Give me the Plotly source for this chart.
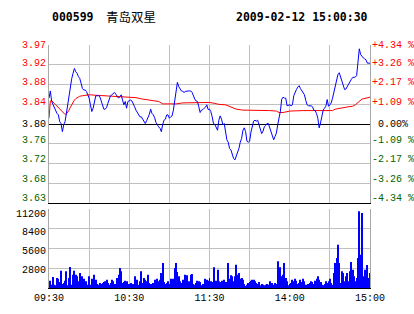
import plotly.graph_objects as go

stock_code = "000599"
stock_name = "青岛双星"
stamp = "2009-02-12 15:00:30"
prev_close = 3.80

# minute-by-minute price, 09:30 .. 11:30, 13:00 .. 15:00 (241 points)
price = [
    3.854, 3.869, 3.847, 3.840, 3.833, 3.826, 3.822, 3.819, 3.805, 3.801,
    3.784, 3.798, 3.805, 3.822, 3.843, 3.854, 3.874, 3.895, 3.906, 3.916,
    3.909, 3.906, 3.899, 3.895, 3.885, 3.874, 3.871, 3.871, 3.868, 3.861,
    3.854, 3.840, 3.826, 3.833, 3.847, 3.859, 3.859, 3.859, 3.857, 3.847,
    3.836, 3.831, 3.831, 3.834, 3.843, 3.854, 3.859, 3.861, 3.864, 3.866,
    3.862, 3.857, 3.854, 3.857, 3.861, 3.850, 3.840, 3.847, 3.833, 3.847,
    3.848,
    3.850, 3.848, 3.840, 3.836, 3.829, 3.824, 3.820, 3.815, 3.815, 3.810,
    3.805, 3.801, 3.807, 3.812, 3.820, 3.831, 3.822, 3.819, 3.813, 3.803,
    3.797, 3.794, 3.791, 3.784, 3.799, 3.808, 3.810, 3.819, 3.819, 3.812,
    3.815, 3.817, 3.829, 3.850, 3.874, 3.887, 3.878, 3.872, 3.869, 3.868,
    3.866, 3.868, 3.869, 3.869, 3.869, 3.869, 3.866, 3.857, 3.852, 3.848,
    3.847, 3.836, 3.824, 3.829, 3.830, 3.833, 3.835, 3.840, 3.830, 3.831,
    3.826, 3.815, 3.801, 3.799, 3.791, 3.787, 3.808, 3.817, 3.810, 3.798,
    3.801, 3.784, 3.767, 3.762, 3.749, 3.746, 3.735, 3.728, 3.725, 3.732,
    3.739, 3.749, 3.762, 3.770, 3.787, 3.792, 3.784, 3.764, 3.762, 3.764,
    3.783, 3.799, 3.806, 3.808, 3.806, 3.808, 3.799, 3.791, 3.780, 3.785,
    3.794, 3.797, 3.801, 3.801, 3.792, 3.785, 3.778, 3.767, 3.774, 3.781,
    3.798, 3.812, 3.827, 3.852, 3.856, 3.854, 3.854, 3.838, 3.839, 3.840,
    3.838, 3.840, 3.859, 3.868, 3.872, 3.877, 3.880, 3.874, 3.870, 3.866,
    3.861, 3.849, 3.840, 3.838, 3.838, 3.838, 3.836, 3.829, 3.828, 3.822,
    3.812, 3.792, 3.802, 3.813, 3.829, 3.833, 3.837, 3.851, 3.837, 3.840,
    3.844, 3.854, 3.868, 3.879, 3.896, 3.903, 3.907, 3.897, 3.887, 3.882,
    3.872, 3.873, 3.878, 3.886, 3.889, 3.893, 3.897, 3.898, 3.898, 3.901,
    3.924, 3.957, 3.945, 3.941, 3.938, 3.936, 3.934, 3.927, 3.927, 3.927,
]

# average price line
avg_minutes = [0, 1, 2, 3, 4, 5, 6, 7, 8, 9, 10, 11, 12, 13, 14, 15, 16, 17, 18, 19,
               20, 21, 22, 23, 25, 28, 30, 35, 40, 45, 50, 55, 60, 65, 70, 75, 80, 82,
               85, 90, 95, 100, 110, 120, 124, 127, 132, 135, 137, 140, 145, 150, 157,
               165, 170, 172, 175, 180, 190, 200, 212, 214, 217, 219, 222, 224, 227,
               229, 232, 234, 237, 240]
avg_price = [3.812, 3.848, 3.849, 3.845, 3.843, 3.840, 3.837, 3.834, 3.831, 3.828,
             3.826, 3.822, 3.820, 3.821, 3.824, 3.829, 3.835, 3.840, 3.847, 3.850,
             3.853, 3.855, 3.857, 3.858, 3.859, 3.860, 3.861, 3.860, 3.859, 3.858,
             3.858, 3.857, 3.856, 3.855, 3.852, 3.850, 3.849, 3.847, 3.842, 3.842,
             3.842, 3.844, 3.844, 3.845, 3.843, 3.841, 3.840, 3.836, 3.834, 3.831,
             3.829, 3.829, 3.829, 3.828, 3.827, 3.824, 3.824, 3.827, 3.828, 3.828,
             3.828, 3.831, 3.833, 3.833, 3.835, 3.836, 3.837, 3.840, 3.847, 3.852,
             3.854, 3.856]

# per-minute volume (240 bars)
volume = [
    1040, 470, 1560, 470, 380, 1420, 1320, 850, 2460, 570,
    710, 1040, 2360, 380, 1420, 2980, 470, 1890, 2460, 1890,
    1650, 950, 2130, 1420, 1650, 1320, 710, 950, 470, 1650,
    470, 1320, 950, 1890, 1180, 570, 470, 710, 570, 710,
    850, 950, 1180, 710, 470, 710, 1180, 950, 570, 470,
    1420, 1890, 2840, 2360, 710, 850, 1040, 950, 380, 570,
    710, 380, 570, 1650, 710, 1180, 470, 950, 2360, 710,
    1420, 1180, 950, 1890, 710, 570, 380, 710, 1180, 710,
    1320, 950, 1180, 2130, 3540, 850, 570, 710, 950, 570,
    1320, 380, 1320, 2840, 3540, 2270, 1650, 950, 710, 1180,
    1040, 1890, 1800, 470, 950, 1890, 1990, 570, 470, 710,
    1040, 950, 850, 380, 570, 470, 1320, 1180, 1040, 1420,
    950, 850, 2930, 950, 1040, 2600, 950, 850, 1040, 570,
    1180, 850, 710, 3540, 1320, 1800, 1650, 950, 1650, 3310,
    1890, 2130, 1320, 1420, 1180, 570, 240, 470, 710, 850,
    1040, 1180, 1180, 950, 710, 570, 850, 380, 570, 470,
    380, 470, 570, 470, 950, 570, 710, 470, 710, 570,
    3780, 1420, 2930, 1650, 1890, 3540, 1420, 950, 380, 570,
    710, 1180, 950, 1320, 1040, 570, 710, 1180, 850, 1320,
    950, 470, 380, 570, 710, 950, 850, 570, 1040, 1320,
    1650, 1180, 850, 470, 380, 570, 950, 710, 950, 1320,
    710, 470, 2130, 3540, 4250, 6140, 3540, 710, 2360, 2130,
    950, 1650, 2130, 950, 2360, 3690, 2600, 1650, 950, 1420,
    4250, 10870, 4730, 10630, 1650, 2600, 1890, 3260, 1420, 2130,
]

pct_levels = [4.34, 3.26, 2.17, 1.09, 0.0, -1.09, -2.17, -3.26, -4.34]
price_labels = ["3.97", "3.92", "3.88", "3.84", "3.80", "3.76", "3.72", "3.68", "3.63"]
pct_labels = ["+4.34 %", "+3.26 %", "+2.17 %", "+1.09 %", "\u00a00.00%",
              "-1.09 %", "-2.17 %", "-3.26 %", "-4.34 %"]
vol_ticks = [2800, 5600, 8400, 11200]
vol_labels = ["2800", "5600", "8400", "11200"]
time_ticks = [0, 30, 60, 90, 120, 150, 180, 210, 240]
time_labels = ["09:30", "", "10:30", "", "11:30", "", "14:00", "", "15:00"]

UP, DOWN, FLAT = "#ff0000", "#006400", "#000000"
GRID = "#c0c0c0"
MONO = "Liberation Mono, DejaVu Sans Mono, monospace"

# small vertical nudges (px) of the axis labels, as in the original widget
price_label_nudge = [0, 1, 2, 2, 0, 3, 4, 4, 5]
vol_label_nudge = [-2, -3, -4, -5]


def colour(p):
    return UP if p > 0 else (DOWN if p < 0 else FLAT)


price_ticks = [prev_close * (1 + p / 100) for p in pct_levels]
grey_ticks = [t for p, t in zip(pct_levels, price_ticks) if p != 0]
minutes = list(range(len(price)))
bar_minutes = list(range(1, len(volume) + 1))

fig = go.Figure()
fig.add_trace(go.Scatter(x=[0], y=[prev_close], yaxis="y2", mode="markers",
                         marker=dict(opacity=0), hoverinfo="skip"))
fig.add_trace(go.Scatter(x=avg_minutes, y=avg_price, mode="lines",
                         line=dict(color="#ff0000", width=1), hoverinfo="skip"))
fig.add_trace(go.Scatter(x=minutes, y=price, mode="lines",
                         line=dict(color="#0000ff", width=1), hoverinfo="skip"))
fig.add_trace(go.Bar(x=bar_minutes, y=volume, xaxis="x2", yaxis="y3",
                     marker=dict(color="#0000ff", line=dict(width=0)), hoverinfo="skip"))

lo = prev_close * (1 - pct_levels[0] / 100)
hi = prev_close * (1 + pct_levels[0] / 100)

annotations = [
    dict(text=f"<b>{stock_code}</b>", xref="paper", yref="paper", x=0.003, y=1.117,
         xanchor="left", yanchor="middle", showarrow=False,
         font=dict(family="DejaVu Sans Mono", size=11.5, color="#000000")),
    dict(text=stock_name, xref="paper", yref="paper", x=0.172, y=1.117,
         xanchor="left", yanchor="middle", showarrow=False,
         font=dict(family="Noto Sans CJK SC", size=12.5, color="#000000")),
    dict(text=f"<b>{stamp}</b>", xref="paper", yref="paper", x=1.0, y=1.117,
         xanchor="right", yanchor="middle", showarrow=False,
         font=dict(family="DejaVu Sans Mono", size=11.5, color="#000000")),
]
for p, tv, lt, rt, nd in zip(pct_levels, price_ticks, price_labels, pct_labels, price_label_nudge):
    annotations.append(dict(text=lt, xref="paper", yref="y", x=0, y=tv, xanchor="right",
                            yanchor="middle", xshift=-1, yshift=nd, showarrow=False,
                            font=dict(family=MONO, size=10, color=colour(p))))
    annotations.append(dict(text=rt, xref="paper", yref="y", x=1, y=tv, xanchor="left",
                            yanchor="middle", xshift=0, yshift=nd, showarrow=False,
                            font=dict(family=MONO, size=10, color=colour(p))))
for tv, lt, nd in zip(vol_ticks, vol_labels, vol_label_nudge):
    annotations.append(dict(text=lt, xref="paper", yref="y3", x=0, y=tv, xanchor="right",
                            yanchor="middle", xshift=-1, yshift=nd, showarrow=False,
                            font=dict(family=MONO, size=10, color="#000000")))

fig.update_layout(
    width=414, height=314,
    margin=dict(l=49, r=44, t=45, b=26),
    paper_bgcolor="white", plot_bgcolor="white",
    showlegend=False, bargap=0.25, hovermode=False,
    xaxis=dict(domain=[0, 1], anchor="y", range=[0, 240], tickvals=time_ticks,
               showticklabels=False, showgrid=True, gridcolor=GRID, gridwidth=1,
               showline=True, linecolor="#000000", linewidth=1, zeroline=False, ticks="",
               automargin=False),
    yaxis=dict(domain=[0.3498, 1], anchor="x", range=[lo, hi], tickvals=grey_ticks,
               showticklabels=False, showgrid=True, gridcolor=GRID, gridwidth=1,
               showline=True, linecolor="#a8a8a8", linewidth=1, mirror=True,
               zeroline=False, ticks="", automargin=False),
    yaxis2=dict(overlaying="y", anchor="x", range=[lo, hi], tickvals=[prev_close],
                showticklabels=False, showgrid=True, gridcolor="#000000", gridwidth=1,
                showline=False, zeroline=False, ticks="", automargin=False),
    xaxis2=dict(domain=[0, 1], anchor="y3", range=[0, 240], tickvals=time_ticks,
                ticktext=time_labels, tickfont=dict(family=MONO, size=10, color="#000000"),
                showgrid=True, gridcolor=GRID, gridwidth=1, showline=True,
                linecolor="#000000", linewidth=1, zeroline=False, ticks="", automargin=False),
    yaxis3=dict(domain=[0, 0.3251], anchor="x2", range=[0, 11200], tickvals=vol_ticks,
                showticklabels=False, showgrid=True, gridcolor=GRID, gridwidth=1,
                showline=True, linecolor="#a8a8a8", linewidth=1, mirror=True,
                zeroline=False, ticks="", automargin=False),
    annotations=annotations,
)

fig.write_html("out.html")
